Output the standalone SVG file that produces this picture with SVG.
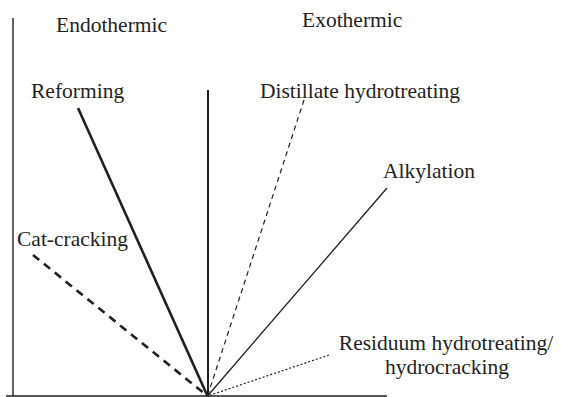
<svg xmlns="http://www.w3.org/2000/svg" width="563" height="397" viewBox="0 0 563 397">
  <style>
    text { font-family: 'Liberation Serif', 'DejaVu Serif', serif; font-size: 21.5px; fill: #231f20; }
    .ax { stroke: #231f20; stroke-width: 1.4; fill: none; }
    .ray { stroke: #231f20; fill: none; stroke-linecap: butt; }
  </style>
  <rect width="563" height="397" fill="#ffffff"/>

  <!-- axes and the endo/exo divider -->
  <g id="axes">
    <line class="ax" x1="13" y1="18" x2="13" y2="396"/>
    <line class="ax" x1="6" y1="396" x2="387" y2="396"/>
    <line class="ray" x1="208" y1="90" x2="208" y2="396" stroke-width="2"/>
    <text x="56" y="32" font-family="Liberation Serif, serif">Endothermic</text>
    <text x="302" y="27" font-family="Liberation Serif, serif">Exothermic</text>
  </g>

  <!-- process rays from the common origin -->
  <g id="rays">
    <line id="ray-reforming" class="ray" x1="78" y1="108" x2="207.5" y2="396" stroke-width="2.6"/>
    <line id="ray-catcracking" class="ray" x1="33" y1="255" x2="207.5" y2="396" stroke-width="2.6" stroke-dasharray="8 6"/>
    <line id="ray-distillate" class="ray" x1="304" y1="100" x2="207.5" y2="396" stroke-width="1.2" stroke-dasharray="5 4"/>
    <line id="ray-alkylation" class="ray" x1="387" y1="188" x2="207.5" y2="396" stroke-width="1.3"/>
    <line id="ray-residuum" class="ray" x1="329" y1="355" x2="207.5" y2="396" stroke-width="1.2" stroke-dasharray="2 2"/>
  </g>

  <g id="reforming">
    <text x="31" y="98" font-family="Liberation Serif, serif">Reforming</text>
  </g>
  <g id="distillate">
    <text x="260" y="98" font-family="Liberation Serif, serif">Distillate hydrotreating</text>
  </g>
  <g id="alkylation">
    <text x="383" y="178" font-family="Liberation Serif, serif">Alkylation</text>
  </g>
  <g id="catcracking">
    <text x="17" y="246" font-family="Liberation Serif, serif">Cat-cracking</text>
  </g>
  <g id="residuum">
    <text x="446" y="350" text-anchor="middle" font-family="Liberation Serif, serif">Residuum hydrotreating/</text>
    <text x="447" y="374" text-anchor="middle" font-family="Liberation Serif, serif">hydrocracking</text>
  </g>
</svg>
